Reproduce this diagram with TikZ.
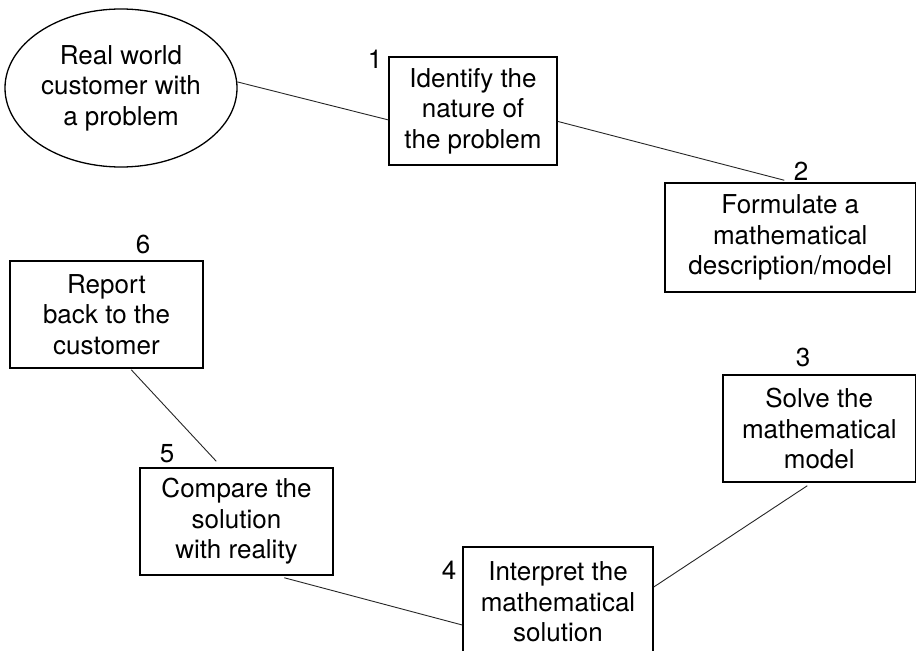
\documentclass[tikz,border=0pt]{standalone}
\usepackage{fontspec}
\setmainfont{TeX Gyre Heros}
\usetikzlibrary{shapes.geometric,calc}
\begin{document}
\begin{tikzpicture}[x=1pt,y=-1pt,
  txt/.style={font=\fontsize{26}{30.5}\selectfont, align=center, inner sep=0pt},
  stepbox/.style={txt, draw, rectangle, line width=1.5pt},
  bubble/.style={txt, draw, ellipse, line width=1.3pt},
  num/.style={font=\fontsize{26}{30}\selectfont, inner sep=0pt},
  link/.style={line width=0.9pt, draw=black!85}]
\useasboundingbox[fill=white] (0,0) rectangle (917,650);

% starting point: the customer
\node[bubble, minimum width=232, minimum height=158] (world) at (121,88)
  {Real world\\customer with\\a problem};

% the six stages of the modelling cycle
\node[stepbox, minimum width=168, minimum height=108] (b1) at (473,111)
  {Identify the\\nature of\\the problem};
\node[stepbox, minimum width=250.5, minimum height=109] (b2) at (790.25,237.5)
  {Formulate a\\mathematical\\description/model};
\node[stepbox, minimum width=192.5, minimum height=107] (b3) at (819.25,428.5)
  {Solve the\\mathematical\\model};
\node[stepbox, minimum width=190, minimum height=110] (b4) at (558,602)
  {Interpret the\\mathematical\\solution};
\node[stepbox, minimum width=193, minimum height=107] (b5) at (236.5,521.5)
  {Compare the\\solution\\with reality};
\node[stepbox, minimum width=193, minimum height=107] (b6) at (106.5,314.5)
  {Report\\back to the\\customer};

% stage numbers
\node[num] (n1) at (375,59) {1};
\node[num] (n2) at (801,171) {2};
\node[num] (n3) at (803,357) {3};
\node[num] (n4) at (449,570) {4};
\node[num] (n5) at (167,454) {5};
\node[num] (n6) at (143,244) {6};

% connectors
\draw[link] (world.3) -- (b1.186);
\draw[link] (b1.-7.5) -- ($(b2.north west)+(120,-2)$);
\draw[link] ($(b3.south west)+(85,3)$) -- ($(b4.east)+(0,-15)$);
\draw[link] ($(b5.south west)+(145,2)$) -- ($(b4.west)+(0,23)$);
\draw[link] ($(b6.south west)+(122,1)$) -- ($(b5.north west)+(77,-6)$);
\end{tikzpicture}
\end{document}
